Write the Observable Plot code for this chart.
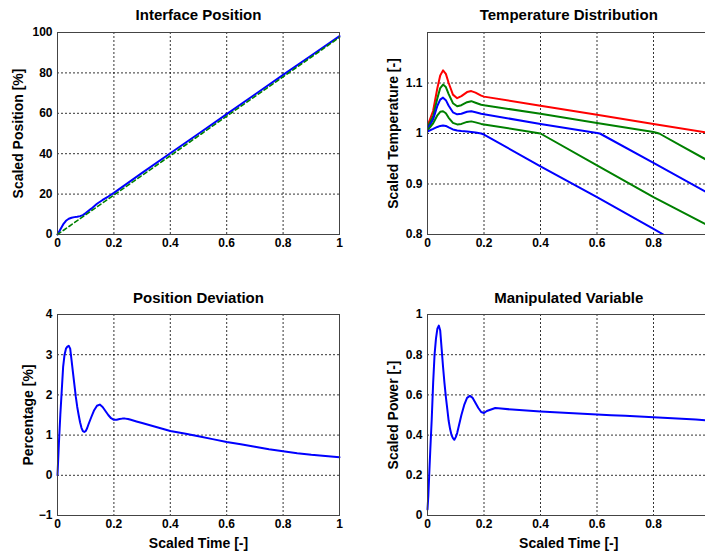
<!DOCTYPE html>
<html>
<head>
<meta charset="utf-8">
<script src="https://cdn.jsdelivr.net/npm/d3@7"></script>
<script src="https://cdn.jsdelivr.net/npm/@observablehq/plot@0.6"></script>
<style>
  html, body { margin: 0; padding: 0; background: #fff; }
  #wrap { position: relative; width: 705px; height: 551px; overflow: hidden; background: #fff; }
  #wrap > svg { position: absolute; }
</style>
</head>
<body>
<div id="wrap"></div>
<script>
// ---------- Interface Position ----------
const posX = [0, 0.01, 0.02, 0.03, 0.04, 0.05, 0.06, 0.07, 0.08, 0.09, 0.1, 0.12, 0.14, 0.16, 0.18, 0.2, 0.3, 0.4, 0.5, 0.6, 0.7, 0.8, 0.9, 1];
const posActual = [0, 2.5, 5, 6.8, 7.8, 8.3, 8.6, 8.8, 9.1, 9.6, 10.6, 12.8, 15.2, 17.1, 18.8, 20.6, 30.5, 40.2, 49.9, 59.6, 69.3, 79, 88.6, 98.2];
const refX = [0, 0.5, 1];
const posRef = [0, 48.8, 97.6];

// ---------- Temperature Distribution ----------
const tRedX = [0, 0.02, 0.035, 0.045, 0.055, 0.065, 0.075, 0.09, 0.105, 0.12, 0.14, 0.155, 0.17, 0.19, 0.2, 0.4, 0.6, 0.8, 1];
const tRedY = [1.015, 1.045, 1.09, 1.115, 1.125, 1.118, 1.1, 1.077, 1.07, 1.074, 1.082, 1.084, 1.081, 1.075, 1.073, 1.055, 1.037, 1.019, 1.001];
const tGreen1X = [0, 0.02, 0.035, 0.045, 0.055, 0.065, 0.075, 0.09, 0.105, 0.12, 0.14, 0.155, 0.17, 0.19, 0.2, 0.4, 0.6, 0.8, 0.82, 0.9, 1];
const tGreen1Y = [1.012, 1.035, 1.07, 1.09, 1.097, 1.092, 1.078, 1.06, 1.054, 1.056, 1.062, 1.064, 1.061, 1.057, 1.056, 1.039, 1.021, 1.003, 1.0, 0.975, 0.944];
const tBlue2X = [0, 0.02, 0.035, 0.045, 0.055, 0.065, 0.075, 0.09, 0.105, 0.12, 0.14, 0.155, 0.17, 0.19, 0.2, 0.4, 0.6, 0.61, 0.8, 1];
const tBlue2Y = [1.008, 1.028, 1.055, 1.067, 1.071, 1.066, 1.055, 1.042, 1.038, 1.039, 1.043, 1.044, 1.042, 1.039, 1.038, 1.019, 1.001, 1.0, 0.942, 0.88];
const tGreen2X = [0, 0.02, 0.035, 0.045, 0.055, 0.065, 0.075, 0.09, 0.105, 0.12, 0.14, 0.155, 0.17, 0.19, 0.2, 0.4, 0.6, 0.8, 1];
const tGreen2Y = [1.006, 1.02, 1.036, 1.043, 1.044, 1.04, 1.031, 1.021, 1.018, 1.019, 1.023, 1.024, 1.022, 1.019, 1.018, 1.0, 0.937, 0.874, 0.816];
const tBlue1X = [0, 0.02, 0.035, 0.045, 0.055, 0.065, 0.075, 0.09, 0.105, 0.12, 0.14, 0.155, 0.17, 0.19, 0.2, 0.4, 0.6, 0.8, 0.835];
const tBlue1Y = [1.004, 1.009, 1.013, 1.015, 1.016, 1.015, 1.012, 1.008, 1.006, 1.005, 1.004, 1.003, 1.002, 1.0, 0.998, 0.935, 0.874, 0.811, 0.8];

// ---------- Position Deviation ----------
const devX = [0, 0.005, 0.01, 0.015, 0.02, 0.025, 0.03, 0.035, 0.04, 0.045, 0.05, 0.055, 0.06, 0.065, 0.07, 0.075, 0.08, 0.085, 0.09, 0.095, 0.1, 0.105, 0.11, 0.12, 0.13, 0.14, 0.15, 0.16, 0.17, 0.18, 0.19, 0.2, 0.21, 0.22, 0.23, 0.24, 0.25, 0.26, 0.28, 0.3, 0.35, 0.4, 0.45, 0.5, 0.55, 0.6, 0.65, 0.7, 0.75, 0.8, 0.85, 0.9, 0.95, 1];
const devY = [0, 0.8, 1.5, 2.1, 2.7, 3.0, 3.15, 3.2, 3.22, 3.15, 2.85, 2.55, 2.25, 1.95, 1.7, 1.5, 1.32, 1.18, 1.1, 1.08, 1.1, 1.17, 1.27, 1.45, 1.62, 1.73, 1.76, 1.7, 1.6, 1.5, 1.42, 1.38, 1.38, 1.4, 1.41, 1.41, 1.4, 1.38, 1.34, 1.3, 1.2, 1.1, 1.04, 0.97, 0.9, 0.83, 0.77, 0.71, 0.65, 0.6, 0.55, 0.51, 0.48, 0.45];

// ---------- Manipulated Variable ----------
const mvX = [0, 0.003, 0.006, 0.01, 0.015, 0.02, 0.025, 0.03, 0.035, 0.04, 0.045, 0.05, 0.055, 0.06, 0.065, 0.07, 0.075, 0.08, 0.085, 0.09, 0.095, 0.1, 0.105, 0.11, 0.12, 0.13, 0.14, 0.15, 0.16, 0.17, 0.18, 0.19, 0.2, 0.21, 0.22, 0.24, 0.26, 0.3, 0.35, 0.4, 0.45, 0.5, 0.55, 0.6, 0.65, 0.7, 0.75, 0.8, 0.85, 0.9, 0.95, 1];
const mvY = [0.03, 0.1, 0.2, 0.33, 0.48, 0.66, 0.8, 0.88, 0.93, 0.945, 0.92, 0.83, 0.74, 0.66, 0.59, 0.53, 0.47, 0.43, 0.4, 0.385, 0.377, 0.39, 0.41, 0.44, 0.5, 0.55, 0.585, 0.595, 0.585, 0.56, 0.535, 0.515, 0.51, 0.52, 0.525, 0.535, 0.532, 0.527, 0.522, 0.518, 0.514, 0.51, 0.506, 0.502, 0.499, 0.496, 0.492, 0.489, 0.485, 0.481, 0.477, 0.473];

// ---------- ticks & labels ----------
const xTicksFull = [0, 0.2, 0.4, 0.6, 0.8, 1];
const xTicksCut = [0, 0.2, 0.4, 0.6, 0.8];
const posTicks = [0, 20, 40, 60, 80, 100];
const tempTicks = [0.8, 0.9, 1, 1.1];
const devTicks = [-1, 0, 1, 2, 3, 4];
const mvTicks = [0, 0.2, 0.4, 0.6, 0.8, 1];
const titles = ["Interface Position", "Temperature Distribution", "Position Deviation", "Manipulated Variable"];
const yLabels = ["Scaled Position [%]", "Scaled Temperature [-]", "Percentage [%]", "Scaled Power [-]"];
const xLabel = "Scaled Time [-]";

const BLUE = "#0000ff", GREEN = "#008000", RED = "#ff0000";
const FONT = "'Liberation Sans', Arial, Helvetica, sans-serif";
const fmt = d3.format("~g");
const zip = (xs, ys) => xs.map((x, i) => ({x, y: ys[i]}));

function panel(o) {
  const gridX = o.xTicks.filter(t => t > o.xDomain[0] && t < o.xDomain[1]);
  const gridY = o.yTicks.filter(t => t > o.yDomain[0] && t < o.yDomain[1]);
  const marks = [
    Plot.ruleX(gridX, {stroke: "#000", strokeWidth: 1, strokeDasharray: "2,2", strokeOpacity: 0.8}),
    Plot.ruleY(gridY, {stroke: "#000", strokeWidth: 1, strokeDasharray: "2,2", strokeOpacity: 0.8}),
    ...o.marks,
    Plot.frame({stroke: "#444", strokeWidth: 1}),
    Plot.text([o.title], {text: d => d, frameAnchor: "top", dy: o.titleDy, textAnchor: "middle", lineAnchor: "middle", fontSize: 15, fontWeight: "bold", fill: "#000"}),
    Plot.text([o.ylabel], {text: d => d, frameAnchor: "left", dx: o.yLabelDx, textAnchor: "middle", lineAnchor: "middle", rotate: -90, fontSize: 14, fontWeight: "bold", fill: "#000"})
  ];
  if (o.xlabel) marks.push(Plot.text([o.xlabel], {text: d => d, frameAnchor: "bottom", dy: 28, textAnchor: "middle", lineAnchor: "middle", fontSize: 14, fontWeight: "bold", fill: "#000"}));
  const svg = Plot.plot({
    width: o.width, height: o.height,
    marginLeft: o.mL, marginRight: o.mR, marginTop: o.mT, marginBottom: o.mB,
    style: {fontFamily: FONT, fontSize: "12px", fontWeight: "bold", color: "#000", background: "transparent", overflow: "visible"},
    x: {domain: o.xDomain, ticks: o.xTicks, tickFormat: fmt, tickSize: 0, tickPadding: 4, label: null},
    y: {domain: o.yDomain, ticks: o.yTicks, tickFormat: fmt, tickSize: 0, tickPadding: 5, label: null},
    marks
  });
  svg.style.left = o.left + "px";
  svg.style.top = o.top + "px";
  document.getElementById("wrap").appendChild(svg);
}

panel({
  left: 0, top: 0, width: 360, height: 260, mL: 57, mR: 21, mT: 32, mB: 26,
  xDomain: [0, 1], xTicks: xTicksFull, yDomain: [0, 100], yTicks: posTicks,
  title: titles[0], titleDy: -17, ylabel: yLabels[0], yLabelDx: -39,
  marks: [
    Plot.line(zip(posX, posActual), {x: "x", y: "y", stroke: BLUE, strokeWidth: 2}),
    Plot.line(zip(refX, posRef), {x: "x", y: "y", stroke: GREEN, strokeWidth: 1.6, strokeDasharray: "4,3"})
  ]
});

panel({
  left: 360, top: 0, width: 360, height: 260, mL: 67, mR: 10.5, mT: 32, mB: 26,
  xDomain: [0, 1], xTicks: xTicksCut, yDomain: [0.8, 1.2], yTicks: tempTicks,
  title: titles[1], titleDy: -17, ylabel: yLabels[1], yLabelDx: -34,
  marks: [
    Plot.line(zip(tRedX, tRedY), {x: "x", y: "y", stroke: RED, strokeWidth: 2, clip: true}),
    Plot.line(zip(tGreen1X, tGreen1Y), {x: "x", y: "y", stroke: GREEN, strokeWidth: 2, clip: true}),
    Plot.line(zip(tBlue2X, tBlue2Y), {x: "x", y: "y", stroke: BLUE, strokeWidth: 2, clip: true}),
    Plot.line(zip(tGreen2X, tGreen2Y), {x: "x", y: "y", stroke: GREEN, strokeWidth: 2, clip: true}),
    Plot.line(zip(tBlue1X, tBlue1Y), {x: "x", y: "y", stroke: BLUE, strokeWidth: 2, clip: true})
  ]
});

panel({
  left: 0, top: 280, width: 360, height: 271, mL: 57, mR: 21, mT: 34, mB: 36,
  xDomain: [0, 1], xTicks: xTicksFull, yDomain: [-1, 4], yTicks: devTicks,
  title: titles[2], titleDy: -16, ylabel: yLabels[2], yLabelDx: -29, xlabel: xLabel,
  marks: [
    Plot.line(zip(devX, devY), {x: "x", y: "y", stroke: BLUE, strokeWidth: 2})
  ]
});

panel({
  left: 360, top: 280, width: 360, height: 271, mL: 67, mR: 10.5, mT: 34, mB: 36,
  xDomain: [0, 1], xTicks: xTicksCut, yDomain: [0, 1], yTicks: mvTicks,
  title: titles[3], titleDy: -16, ylabel: yLabels[3], yLabelDx: -34, xlabel: xLabel,
  marks: [
    Plot.line(zip(mvX, mvY), {x: "x", y: "y", stroke: BLUE, strokeWidth: 2})
  ]
});
</script>
</body>
</html>
